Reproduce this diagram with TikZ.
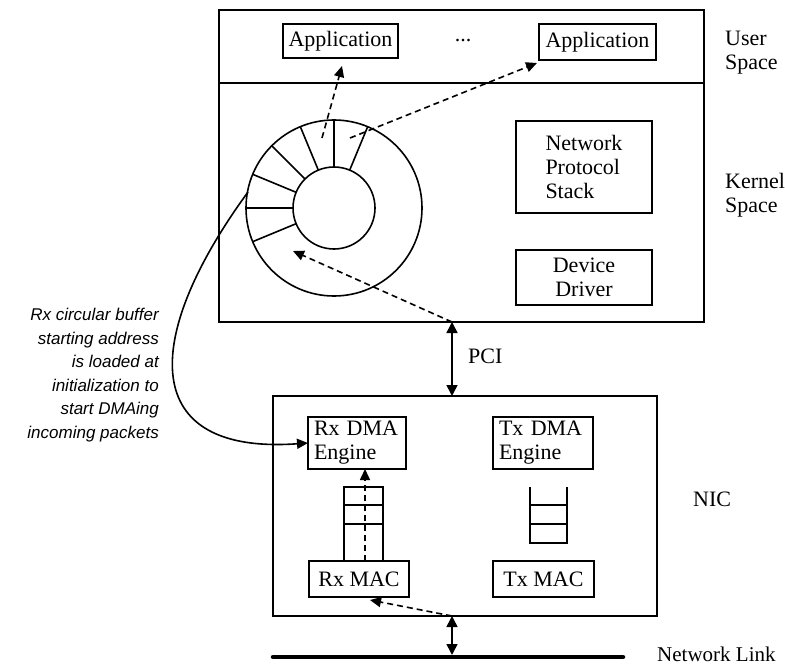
\documentclass[tikz,border=0pt]{standalone}
\usepackage{fontspec}
\setmainfont{Liberation Serif}
\newfontfamily\notefont{Liberation Sans}
\usetikzlibrary{arrows.meta,calc}
\begin{document}
\begin{tikzpicture}[x=1pt,y=-1pt,
  every node/.style={font=\fontsize{22}{24}\selectfont},
  frame/.style={draw,line width=1.6pt},
  unit/.style={draw,line width=1.6pt,inner sep=0pt,outer sep=0pt},
  flow/.style={line width=1.6pt,dash pattern=on 6pt off 4pt,-{Triangle[length=11pt,width=10pt]}},
  link/.style={line width=1.6pt,{Triangle[length=11pt,width=11pt]}-{Triangle[length=11pt,width=11pt]}},
  label/.style={inner sep=0pt,align=left,anchor=north west}]
\useasboundingbox (0,0) rectangle (785,666);

% host: user space above, kernel space below
\draw[frame] (219,10) rectangle (704,322);
\draw[frame] (219,83) -- (704,83);
\node[unit,minimum width=115pt,minimum height=34pt] (appL) at (340.5,41) {Application};
\node[unit,minimum width=117pt,minimum height=36pt] (appR) at (597.5,42) {Application};
\node (dots) at (463,41) {...};
\node[label] (user) at (725,31) {User\\Space};
\node[label] (kernel) at (725,173) {Kernel\\Space};
\node[unit,minimum width=136pt,minimum height=92pt,align=left] (stack) at (584,167) {Network\\Protocol\\Stack};
\node[unit,minimum width=136pt,minimum height=55pt,align=center] (driver) at (584,277.5) {Device\\Driver};

% Rx circular buffer ring
\coordinate (ring) at (334,208);
\draw[line width=1.6pt] (ring) circle[radius=88pt];
\draw[line width=1.6pt] (ring) circle[radius=41pt];
\foreach \a in {67.5,90,112.5,135,157.5,180,202.5}
  \draw[line width=1.6pt] ({334+41*cos(\a)},{208-41*sin(\a)}) -- ({334+88*cos(\a)},{208-88*sin(\a)});

% NIC
\draw[frame] (273,396) rectangle (657,616);
\node[label] (nic) at (693,492) {NIC};
\node[unit,minimum width=98pt,minimum height=52pt,align=left,text width=86pt] (rxdma) at (357,443) {Rx\hspace{7pt}DMA\\Engine};
\node[unit,minimum width=100pt,minimum height=52pt,align=left,text width=88pt] (txdma) at (543,443) {Tx DMA\\Engine};
\node[unit,minimum width=100pt,minimum height=36pt] (rxmac) at (359,579) {Rx MAC};
\node[unit,minimum width=101pt,minimum height=36pt] (txmac) at (543.5,579) {Tx MAC};

% descriptor queues
\draw[line width=1.6pt] (344,560) -- (344,487) -- (383,487) -- (383,560);
\draw[line width=1.6pt] (344,505) -- (383,505) (344,524) -- (383,524);
\draw[line width=1.6pt] (530,487) -- (530,543) -- (567,543) -- (567,487);
\draw[line width=1.6pt] (530,505) -- (567,505) (530,524) -- (567,524);

% bus and wire
\coordinate (pciTop) at (452,322);
\coordinate (pciBot) at (452,396);
\coordinate (nicBot) at (452,616);
\coordinate (wire) at (452,655);
\draw[link] (pciTop) -- (pciBot);
\node[label] (pci) at (468,349) {PCI};
\draw[line width=4.5pt,line cap=round] (273,657) -- (623,657);
\node[label,font=\fontsize{21}{24}\selectfont] (netlink) at (657,647) {Network Link};
\draw[link] (nicBot) -- (wire);

% packet flow
\coordinate (slotA) at (322,138);
\coordinate (slotB) at (350,138);
\coordinate (appLin) at (342,66);
\coordinate (appRin) at (537,63);
\coordinate (ringIn) at (293,251);
\coordinate (macIn) at (370,600);
\draw[flow] (slotA) -- (appLin);
\draw[flow] (slotB) -- (appRin);
\draw[flow] (pciTop) -- (ringIn);
\draw[flow] ([xshift=6pt]rxmac.north) -- ([xshift=8pt]rxdma.south);
\draw[flow] (nicBot) -- (macIn);

% buffer address hand-off
\coordinate (ringOut) at (248,192);
\node[inner sep=0pt,anchor=north east,align=right,font=\notefont\itshape\fontsize{17}{23.6}\selectfont] (note) at (159,308)
  {Rx circular buffer\\starting address\\is loaded at\\initialization to\\start DMAing\\incoming packets};
\draw[line width=1.6pt,-{Triangle[length=11pt,width=10pt]}] (ringOut) .. controls (140,340) and (140,455) .. (rxdma.west);
\end{tikzpicture}
\end{document}
